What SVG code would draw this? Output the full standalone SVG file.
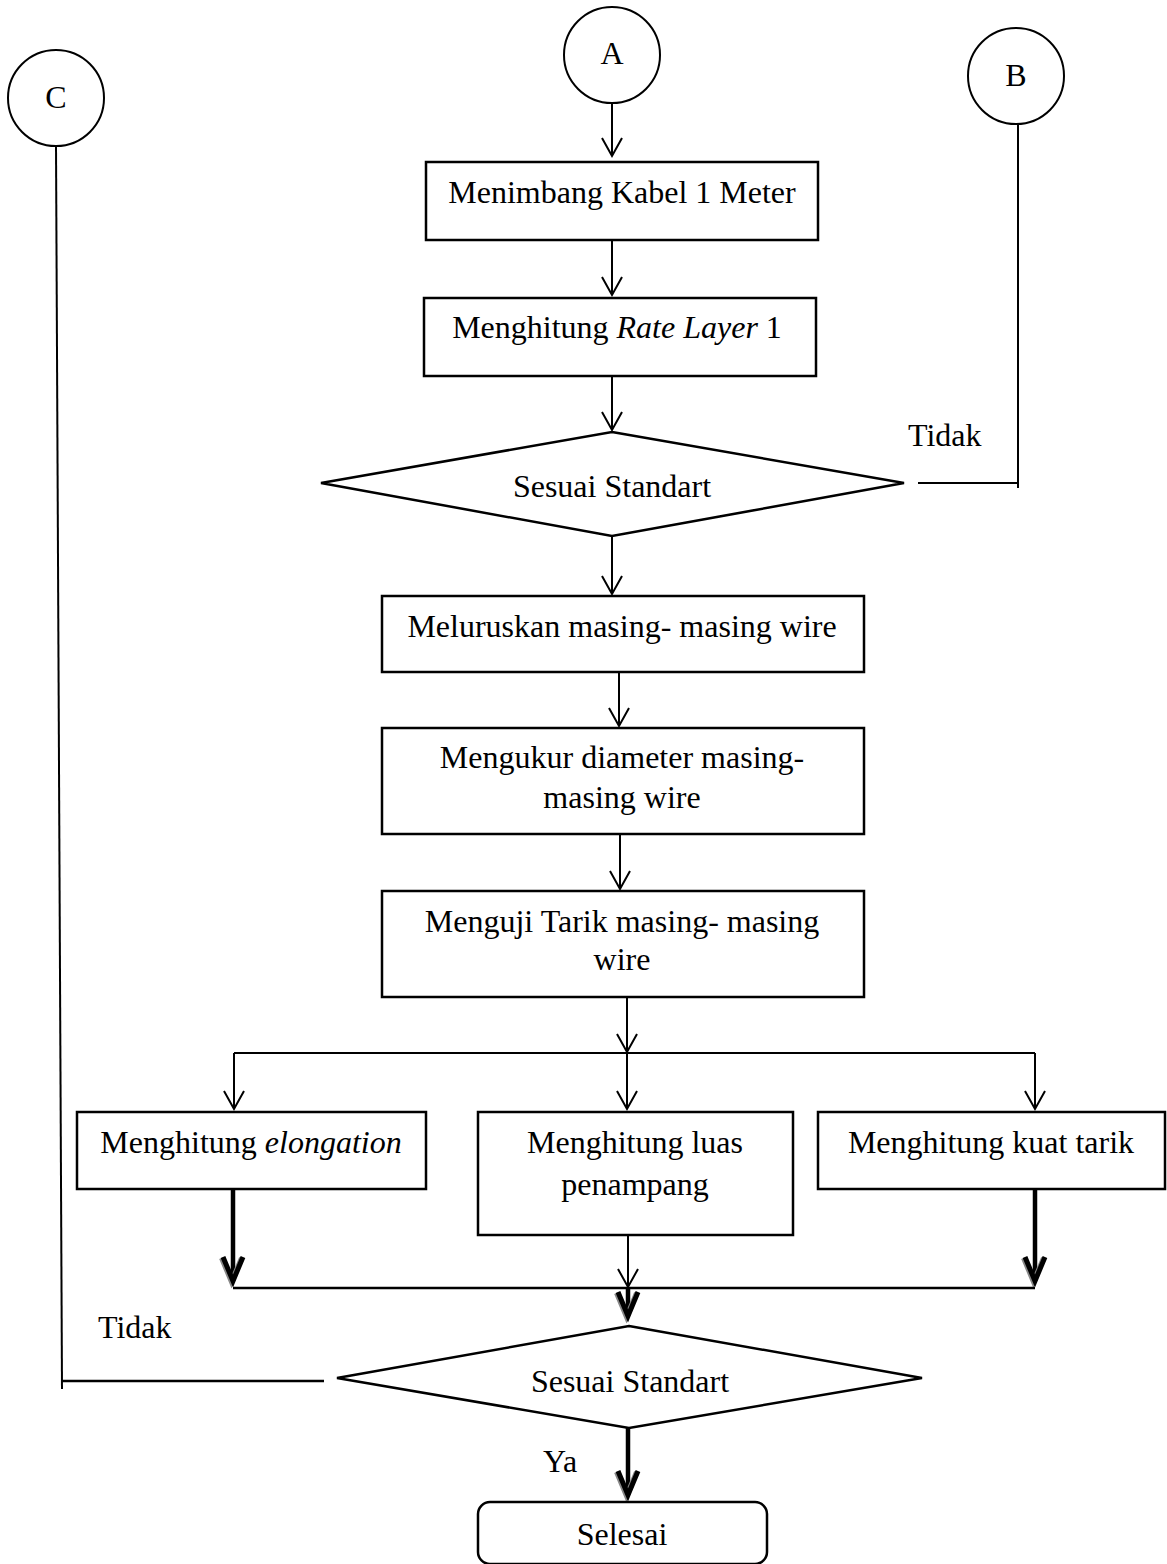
<svg xmlns="http://www.w3.org/2000/svg" width="1167" height="1564" viewBox="0 0 1167 1564">
<style>
.bg{fill:#ffffff}
.box{fill:#ffffff;stroke:#000;stroke-width:2.5}
.circ{fill:#ffffff;stroke:#000;stroke-width:2}
.dia{fill:#ffffff;stroke:#000;stroke-width:2.5;stroke-linejoin:miter}
.ln{fill:none;stroke:#000;stroke-width:2}
.thin{fill:none;stroke:#000;stroke-width:2;marker-end:url(#open)}
.thick{fill:none;stroke:#000;stroke-width:4.5;marker-end:url(#bold)}
.t{font-family:"Liberation Serif","Times New Roman",serif;font-size:32px;fill:#000;text-anchor:middle}
.l{text-anchor:start}
.i{font-style:italic}
</style>
<defs>
<marker id="open" markerUnits="userSpaceOnUse" viewBox="-22 -12 26 24" refX="0" refY="0" markerWidth="26" markerHeight="24" orient="auto">
<path d="M-18,-10 L0,0 L-18,10" fill="none" stroke="#000" stroke-width="2"/>
</marker>
<marker id="bold" markerUnits="userSpaceOnUse" viewBox="-30 -16 42 32" refX="0" refY="0" markerWidth="42" markerHeight="32" orient="auto">
<path d="M-24,-10 L0,0 L-24,10" fill="none" stroke="#888" stroke-width="5" transform="translate(1,1.5)"/>
<path d="M-24,-10 L0,0 L-24,10" fill="none" stroke="#000" stroke-width="5"/>
</marker>
</defs>
<rect class="bg" x="0" y="0" width="1167" height="1564"/>

<g id="connectors">
<line class="thin" x1="612" y1="102" x2="612" y2="156"/>
<line class="thin" x1="612" y1="240" x2="612" y2="295"/>
<line class="thin" x1="612" y1="376" x2="612" y2="430"/>
<line class="thin" x1="612" y1="536" x2="612" y2="594"/>
<line class="thin" x1="619" y1="672" x2="619" y2="726"/>
<line class="thin" x1="620" y1="834" x2="620" y2="889"/>
<line class="thin" x1="627" y1="997" x2="627" y2="1052"/>
<line class="ln" x1="234" y1="1053" x2="1035" y2="1053"/>
<line class="thin" x1="234" y1="1053" x2="234" y2="1109"/>
<line class="thin" x1="627" y1="1053" x2="627" y2="1109"/>
<line class="thin" x1="1035" y1="1053" x2="1035" y2="1109"/>
<line class="thick" x1="233" y1="1189" x2="233" y2="1281"/>
<line class="thick" x1="1035" y1="1189" x2="1035" y2="1281"/>
<line class="thin" x1="628" y1="1235" x2="628" y2="1287"/>
<line class="ln" x1="233" y1="1288" x2="1035" y2="1288" style="stroke-width:2.5"/>
<line class="thick" x1="628" y1="1288" x2="628" y2="1316"/>
<line class="thick" x1="628" y1="1428" x2="628" y2="1495"/>
<polyline class="ln" points="918,483 1018,483 1018,488"/>
<line class="ln" x1="1018" y1="124" x2="1018" y2="488"/>
<line class="ln" x1="56" y1="145" x2="62" y2="1389"/>
<line class="ln" x1="62" y1="1381" x2="324" y2="1381" style="stroke-width:2.5"/>
<text class="t l" x="908" y="446">Tidak</text>
<text class="t l" x="98" y="1338">Tidak</text>
<text class="t l" x="543" y="1472">Ya</text>
</g>

<g id="nodeA">
<circle class="circ" cx="612" cy="55" r="48"/>
<text class="t" x="612" y="64">A</text>
</g>
<g id="nodeB">
<circle class="circ" cx="1016" cy="76" r="48"/>
<text class="t" x="1016" y="86">B</text>
</g>
<g id="nodeC">
<circle class="circ" cx="56" cy="98" r="48"/>
<text class="t" x="56" y="108">C</text>
</g>

<g id="menimbang">
<rect class="box" x="426" y="162" width="392" height="78"/>
<text class="t" x="622" y="203">Menimbang Kabel 1 Meter</text>
</g>
<g id="rate">
<rect class="box" x="424" y="298" width="392" height="78"/>
<text class="t" x="617" y="338">Menghitung <tspan class="i">Rate Layer</tspan> 1</text>
</g>
<g id="decision1">
<polygon class="dia" points="612,432 904,483 612,536 321,483"/>
<text class="t" x="612" y="497">Sesuai Standart</text>
</g>
<g id="meluruskan">
<rect class="box" x="382" y="596" width="482" height="76"/>
<text class="t" x="622" y="637">Meluruskan masing- masing wire</text>
</g>
<g id="mengukur">
<rect class="box" x="382" y="728" width="482" height="106"/>
<text class="t" x="622" y="768">Mengukur diameter masing-</text>
<text class="t" x="622" y="808">masing wire</text>
</g>
<g id="menguji">
<rect class="box" x="382" y="891" width="482" height="106"/>
<text class="t" x="622" y="932">Menguji Tarik masing- masing</text>
<text class="t" x="622" y="970">wire</text>
</g>
<g id="elongation">
<rect class="box" x="77" y="1112" width="349" height="77"/>
<text class="t" x="251" y="1153">Menghitung <tspan class="i">elongation</tspan></text>
</g>
<g id="luas">
<rect class="box" x="478" y="1112" width="315" height="123"/>
<text class="t" x="635" y="1153">Menghitung luas</text>
<text class="t" x="635" y="1195">penampang</text>
</g>
<g id="kuat">
<rect class="box" x="818" y="1112" width="347" height="77"/>
<text class="t" x="991" y="1153">Menghitung kuat tarik</text>
</g>
<g id="decision2">
<polygon class="dia" points="629,1326 922,1378 629,1428 337,1378"/>
<text class="t" x="630" y="1392">Sesuai Standart</text>
</g>
<g id="selesai">
<rect class="box" x="478" y="1502" width="289" height="62" rx="12" ry="12"/>
<text class="t" x="622" y="1545">Selesai</text>
</g>
</svg>
